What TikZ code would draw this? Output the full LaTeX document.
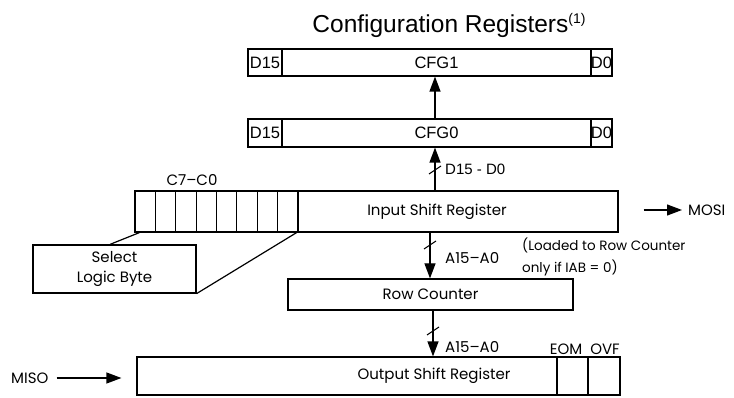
\documentclass[tikz,border=0pt]{standalone}
\usepackage{fontspec}
\usetikzlibrary{arrows.meta}
\newfontfamily\arialf{Liberation Sans}
\newfontfamily\gothf{Poppins}
\tikzset{
  regbox/.style={draw, line width=1.2pt, inner sep=0pt, font=\arialf\fontsize{16.5}{16.5}\selectfont},
  lbl/.style={inner sep=0pt, font=\gothf\fontsize{15}{20}\selectfont},
  bus/.style={line width=1.2pt, -{Triangle[length=15pt,width=11pt]}},
  tick/.style={line width=1pt},
}
\begin{document}
\begin{tikzpicture}[x=1pt, y=-1pt]
    \useasboundingbox (0,0) rectangle (734,398);
    % Title
    \node[inner sep=0pt, font=\arialf\fontsize{24.5}{24.5}\selectfont] (title) at (449,25)
        {Configuration Registers\raisebox{9pt}{\fontsize{14}{14}\selectfont(1)}};

    % Configuration registers
    \node[regbox, minimum width=34pt, minimum height=27pt] (d15a) at (265,62.5) {D15};
    \node[regbox, minimum width=309pt, minimum height=27pt] (cfg1) at (436.5,62.5) {CFG1};
    \node[regbox, minimum width=21pt, minimum height=27pt] (d0a) at (601.5,62.5) {D0};
    \node[regbox, minimum width=34pt, minimum height=28pt] (d15b) at (265,133) {D15};
    \node[regbox, minimum width=309pt, minimum height=28pt] (cfg0) at (436.5,133) {CFG0};
    \node[regbox, minimum width=21pt, minimum height=28pt] (d0b) at (601.5,133) {D0};

    % Input shift register with C7-C0 cells
    \node[regbox, minimum width=483pt, minimum height=41pt] (isr) at (376.5,211.5) {};
    \node[lbl] (isrtext) at (437,211.5) {Input Shift Register};
    \foreach \i in {0,...,7}
        \node[regbox, minimum width=20.375pt, minimum height=41pt] (c\i) at ({145.19+\i*20.375},211.5) {};
    \node[lbl] (ctext) at (192,180) {C7–C0};

    % Select logic byte callout
    \node[regbox, lbl, minimum width=163pt, minimum height=48pt, align=center] (sel) at (114.5,269)
        {Select\\Logic Byte};
    \draw[line width=1.2pt] ([xshift=5pt]c0.south west) -- ([xshift=-4.5pt]sel.north);
    \draw[line width=1.2pt] ([xshift=-2pt]c7.south east) -- (sel.south east);

    % Row counter
    \node[regbox, lbl, minimum width=285pt, minimum height=31pt] (row) at (430.5,294.5) {Row Counter};

    % Output shift register with EOM / OVF
    \node[regbox, minimum width=483pt, minimum height=38pt] (osr) at (378.5,376) {};
    \node[lbl] (osrtext) at (434,376) {Output Shift Register};
    \node[regbox, minimum width=31pt, minimum height=38pt] (eom) at (572.5,376) {};
    \node[regbox, minimum width=32pt, minimum height=38pt] (ovf) at (604,376) {};
    \node[lbl] at (566,349) {EOM};
    \node[lbl] at (605,349) {OVF};

    % Buses
    \draw[bus] (cfg0.north -| 435,0) -- (cfg1.south -| 435,0);
    \draw[bus] (isr.north -| 435,0) -- (cfg0.south -| 435,0);
    \draw[tick] (429,174) -- (441,166);
    \node[inner sep=0pt, anchor=west, font=\arialf\fontsize{15}{15}\selectfont] at (445,169) {D15 - D0};

    \draw[bus] (isr.south -| 430,0) -- (row.north -| 430,0);
    \draw[tick] (424,249) -- (436,241);
    \node[lbl, anchor=west] at (445,258) {A15–A0};
    \node[lbl, anchor=west, align=left, font=\gothf\fontsize{13.5}{22}\selectfont] at (522,257)
        {(Loaded to Row Counter\\only if IAB = 0)};

    \draw[bus] (row.south -| 433,0) -- (osr.north -| 433,0);
    \draw[tick] (427,335) -- (439,327);
    \node[lbl, anchor=west] at (445,347) {A15–A0};

    % Serial lines
    \coordinate (mosiend) at (682,210);
    \draw[bus] ([xshift=25pt]isr.east |- mosiend) -- (mosiend);
    \node[lbl, anchor=west] (mosi) at (688,210) {MOSI};
    \node[lbl, anchor=west] (miso) at (11,378) {MISO};
    \draw[bus] ([xshift=8pt]miso.east) -- ([xshift=-15pt]osr.west |- miso);
\end{tikzpicture}
\end{document}
